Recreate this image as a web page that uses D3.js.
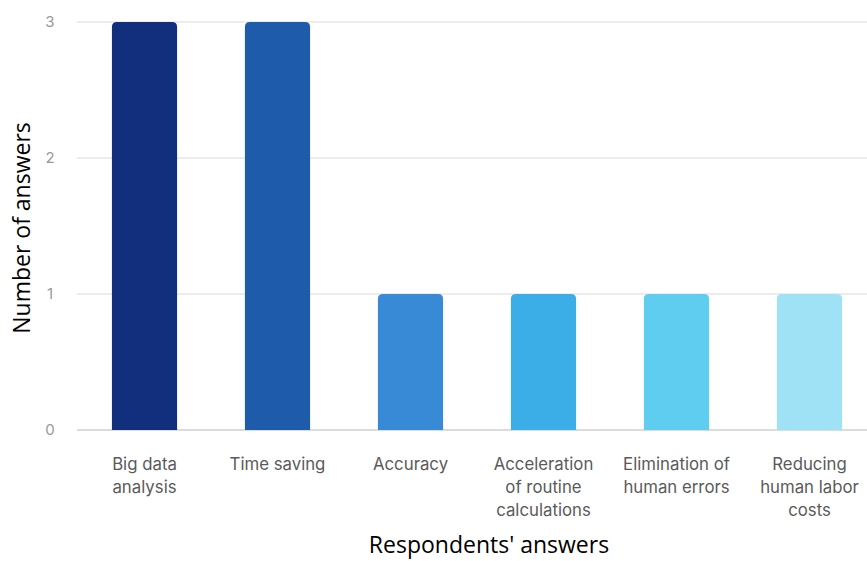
<!DOCTYPE html>
<html><head><meta charset="utf-8">
<script src="https://cdn.jsdelivr.net/npm/d3@7"></script>
<style>body{margin:0;background:#fff;}svg{display:block;}</style>
</head><body>
<svg id="c" width="867" height="561"></svg>
<script>
const categories = [["Big data","analysis"],["Time saving"],["Accuracy"],["Acceleration","of routine","calculations"],["Elimination of","human errors"],["Reducing","human labor","costs"]];
const values = [3,3,1,1,1,1];
const colors = ["#122f7e","#1f5bab","#388ad6","#3baee7","#5fcdf0","#9fe2f5"];
const yTicks = [0,1,2,3];

const svg = d3.select("#c");
const x = d3.scaleBand().domain(d3.range(categories.length)).range([78,876]).paddingInner(0.51).paddingOuter(0.255);
const y = d3.scaleLinear().domain([0,3]).range([430,22]);

// grid
svg.append("g").selectAll("line").data(yTicks).join("line")
  .attr("x1",77).attr("x2",867).attr("y1",d=>y(d)).attr("y2",d=>y(d))
  .attr("stroke",d=>d===0?"#dcdcdc":"#ececec").attr("stroke-width",2);

// y tick labels
svg.append("g").selectAll("text").data(yTicks).join("text")
  .attr("x",50).attr("y",d=>y(d)).attr("dy","0.35em").attr("text-anchor","middle")
  .attr("font-family","Inter, sans-serif").attr("font-size",15).attr("fill","#9a9a9a")
  .text(d=>d);

// bars with rounded top
const r = 5;
svg.append("g").selectAll("path").data(values).join("path")
  .attr("d",(d,i)=>{
    const x0=x(i), w=x.bandwidth(), y0=y(d), yb=y(0);
    return `M${x0},${yb}V${y0+r}Q${x0},${y0} ${x0+r},${y0}H${x0+w-r}Q${x0+w},${y0} ${x0+w},${y0+r}V${yb}Z`;
  })
  .attr("fill",(d,i)=>colors[i]);

// category labels
const lab = svg.append("g").selectAll("text").data(categories).join("text")
  .attr("text-anchor","middle").attr("font-family","Inter, sans-serif").attr("font-size",16.8).attr("fill","#5a5a5a")
  .attr("transform",(d,i)=>`translate(${x(i)+x.bandwidth()/2},470)`);
lab.selectAll("tspan").data(d=>d).join("tspan").attr("x",0).attr("dy",(d,j)=>j===0?0:23).text(d=>d);

// axis titles
svg.append("text").attr("x",489).attr("y",553).attr("text-anchor","middle")
  .attr("font-family","'Open Sans', sans-serif").attr("font-size",23).attr("fill","#000").text("Respondents' answers");
svg.append("text").attr("transform","translate(30,228) rotate(-90)").attr("text-anchor","middle")
  .attr("font-family","'Open Sans', sans-serif").attr("font-size",23).attr("fill","#000").text("Number of answers");
</script>
</body></html>
